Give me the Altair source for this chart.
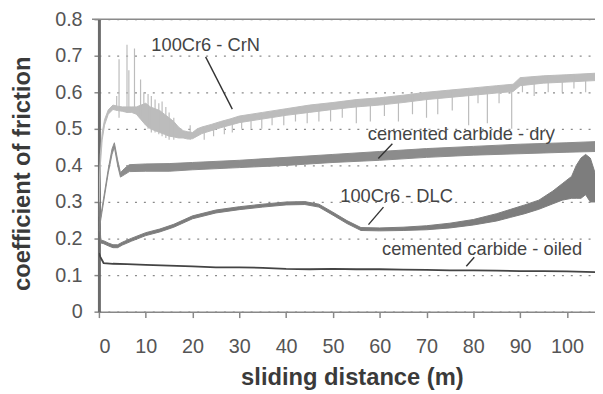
import altair as alt
import pandas as pd

FONT = "Liberation Sans"

# ---- 100Cr6 - CrN (light grey noisy band) ----
crn_d = [0, 0.3, 0.7, 1.2, 2, 3, 4, 5, 6, 7, 8, 9, 10, 11, 12, 13, 14, 15, 16, 17, 18, 19, 20,
         21, 22, 24, 26, 28, 30, 35, 40, 45, 50, 55, 60, 65, 70, 75, 80, 85, 88.5, 90, 95, 100, 106]
crn_lo = [0.26, 0.40, 0.47, 0.51, 0.54, 0.553, 0.55, 0.548, 0.545, 0.545, 0.54, 0.525, 0.51, 0.50,
          0.495, 0.49, 0.485, 0.48, 0.478, 0.475, 0.475, 0.472, 0.473, 0.48, 0.487, 0.495, 0.503,
          0.51, 0.517, 0.527, 0.537, 0.545, 0.553, 0.56, 0.565, 0.572, 0.58, 0.586, 0.592, 0.598,
          0.602, 0.618, 0.625, 0.628, 0.632]
crn_hi = [0.29, 0.43, 0.49, 0.525, 0.552, 0.565, 0.562, 0.56, 0.56, 0.56, 0.56, 0.565, 0.57, 0.56,
          0.555, 0.55, 0.54, 0.53, 0.52, 0.505, 0.495, 0.492, 0.49, 0.50, 0.505, 0.512, 0.52,
          0.527, 0.535, 0.545, 0.555, 0.565, 0.572, 0.58, 0.585, 0.592, 0.60, 0.606, 0.612, 0.618,
          0.622, 0.64, 0.645, 0.648, 0.652]
# CrN spikes (distance, from, to)
spk_d = [3.8, 4.3, 6.0, 6.4, 7.6, 8.9, 9.6, 10.5, 11.2, 12.0, 12.8, 13.5, 14.3, 15.0, 16.0, 19.5,
         22.5, 24.5, 26.8, 28.5, 30.5, 32.5, 34.8, 37.0, 39.5, 42.0, 44.5, 47.0, 49.5, 52.0, 55.0,
         58.0, 61.0, 64.0, 67.0, 70.0, 72.4, 75.5, 79.0, 81.0, 83.0, 85.5, 88.2, 90.5, 93.0, 96.0,
         99.0, 101.5, 104.0]
spk_a = [0.55, 0.53, 0.545, 0.55, 0.545, 0.535, 0.52, 0.50, 0.49, 0.49, 0.485, 0.48, 0.475, 0.47,
         0.47, 0.47, 0.50, 0.51, 0.52, 0.525, 0.53, 0.535, 0.54, 0.545, 0.55, 0.555, 0.56, 0.565,
         0.57, 0.575, 0.58, 0.58, 0.585, 0.59, 0.595, 0.60, 0.60, 0.605, 0.61, 0.612, 0.615, 0.618,
         0.62, 0.64, 0.64, 0.645, 0.645, 0.65, 0.65]
spk_b = [0.59, 0.69, 0.73, 0.66, 0.72, 0.635, 0.60, 0.595, 0.59, 0.58, 0.57, 0.575, 0.56, 0.545,
         0.53, 0.51, 0.47, 0.48, 0.485, 0.49, 0.50, 0.50, 0.50, 0.51, 0.51, 0.52, 0.515, 0.52,
         0.52, 0.53, 0.515, 0.52, 0.535, 0.52, 0.54, 0.53, 0.54, 0.55, 0.51, 0.57, 0.515, 0.57,
         0.50, 0.60, 0.59, 0.60, 0.60, 0.61, 0.60]

# ---- cemented carbide - dry (grey band) ----
dry_d = [0, 1, 2, 2.8, 3.3, 4, 4.6, 5.5, 6.5, 10, 15, 20, 30, 40, 50, 60, 70, 80, 90, 100, 106]
dry_lo = [0.22, 0.30, 0.38, 0.43, 0.45, 0.40, 0.368, 0.375, 0.383, 0.384, 0.384, 0.388, 0.394,
          0.400, 0.408, 0.414, 0.422, 0.428, 0.432, 0.436, 0.438]
dry_hi = [0.23, 0.31, 0.39, 0.445, 0.462, 0.415, 0.38, 0.392, 0.402, 0.404, 0.405, 0.408, 0.414,
          0.422, 0.43, 0.438, 0.446, 0.452, 0.458, 0.462, 0.465]

# ---- 100Cr6 - DLC ----
dlc_d = [0, 0.4, 1, 2, 3, 4, 5, 7, 10, 13, 16, 20, 25, 30, 35, 40, 44, 47, 50, 53, 56, 60, 65,
         70, 75, 80, 85, 88, 91, 94, 97, 99, 101, 102, 103, 104, 105, 106]
dlc_lo = [0.25, 0.188, 0.186, 0.180, 0.175, 0.175, 0.182, 0.193, 0.208, 0.218, 0.231, 0.254,
          0.270, 0.279, 0.286, 0.292, 0.293, 0.286, 0.264, 0.241, 0.222, 0.221, 0.222, 0.224,
          0.229, 0.237, 0.248, 0.258, 0.268, 0.280, 0.295, 0.305, 0.31, 0.31, 0.31, 0.32, 0.30, 0.30]
dlc_hi = [0.30, 0.196, 0.194, 0.188, 0.183, 0.183, 0.190, 0.201, 0.216, 0.226, 0.239, 0.262,
          0.278, 0.287, 0.294, 0.300, 0.301, 0.294, 0.272, 0.249, 0.230, 0.229, 0.231, 0.235,
          0.242, 0.252, 0.268, 0.280, 0.292, 0.305, 0.33, 0.35, 0.37, 0.40, 0.42, 0.43, 0.42, 0.38]

# ---- cemented carbide - oiled ----
oil_d = [0, 0.3, 1, 3, 6, 10, 15, 20, 25, 30, 35, 40, 45, 50, 55, 60, 65, 70, 75, 80, 85, 90,
         95, 100, 106]
oil_v = [0.16, 0.15, 0.133, 0.131, 0.13, 0.128, 0.126, 0.124, 0.121, 0.121, 0.12, 0.117, 0.116,
         0.117, 0.116, 0.116, 0.115, 0.114, 0.113, 0.113, 0.112, 0.111, 0.111, 0.11, 0.108]

# ---- annotations ----
lab_text = ["100Cr6 - CrN", "cemented carbide - dry", "100Cr6 - DLC", "cemented carbide - oiled"]
lab_d = [22.8, 77.4, 63.6, 60.5]
lab_v = [0.73, 0.486, 0.316, 0.17]
lab_align = ["center", "center", "center", "left"]
ld_d1 = [22.8, 62.7, 60.8, 80.2]
ld_v1 = [0.697, 0.459, 0.286, 0.149]
ld_d2 = [28.5, 59.7, 57.6, 78.5]
ld_v2 = [0.554, 0.419, 0.238, 0.124]

xticks = [0, 10, 20, 30, 40, 50, 60, 70, 80, 90, 100]
yticks = [0, 0.1, 0.2, 0.3, 0.4, 0.5, 0.6, 0.7, 0.8]

xs = alt.Scale(domain=[0, 106], nice=False, zero=False)
ys = alt.Scale(domain=[0, 0.8], nice=False)

xaxis = alt.Axis(values=xticks, title="sliding distance (m)", grid=False,
                 labelFontSize=20, labelColor="#555", labelFont=FONT, labelPadding=19,
                 tickSize=6, tickColor="#888", tickWidth=1.5,
                 domainColor="#888", domainWidth=1.5,
                 titleFont=FONT, titleFontSize=24, titleFontWeight="bold", titleColor="#3a3a3a",
                 titleX=256, titleY=74, titleAlign="center", titleBaseline="alphabetic")
yaxis = alt.Axis(values=yticks, title="coefficient of friction", grid=True,
                 gridDash=[2, 7], gridColor="#8a8a8a", gridWidth=1.3,
                 labelExpr="datum.value == 0 ? '0' : format(datum.value, '.1f')",
                 labelFontSize=20, labelColor="#555", labelFont=FONT, labelPadding=12,
                 tickSize=5, tickColor="#888", tickWidth=1.5,
                 domainColor="#6b6b6b", domainWidth=3,
                 titleFont=FONT, titleFontSize=24, titleFontWeight="bold", titleColor="#3a3a3a",
                 titleAngle=270, titleX=-77, titleY=156, titleAlign="center",
                 titleBaseline="middle")

X = lambda f: alt.X(f, scale=xs, axis=xaxis)
Y = lambda f: alt.Y(f, scale=ys, axis=yaxis)

crn_df = pd.DataFrame({"d": crn_d, "lo": crn_lo, "hi": crn_hi})
spk_df = pd.DataFrame({"d": spk_d, "a": spk_a, "b": spk_b})
dry_df = pd.DataFrame({"d": dry_d, "lo": dry_lo, "hi": dry_hi})
dlc_df = pd.DataFrame({"d": dlc_d, "lo": dlc_lo, "hi": dlc_hi})
oil_df = pd.DataFrame({"d": oil_d, "v": oil_v})
lab_df = pd.DataFrame({"t": lab_text, "d": lab_d, "v": lab_v, "al": lab_align})
ld_df = pd.DataFrame({"d1": ld_d1, "v1": ld_v1, "d2": ld_d2, "v2": ld_v2})

crn = alt.Chart(crn_df).mark_area(color="#bcbcbc", clip=True, stroke="#bcbcbc",
                                  strokeWidth=1).encode(x=X("d:Q"), y=Y("lo:Q"), y2="hi:Q")
spikes = alt.Chart(spk_df).mark_rule(color="#bcbcbc", strokeWidth=1.2, clip=True).encode(
    x=X("d:Q"), y=Y("a:Q"), y2="b:Q")
dry = alt.Chart(dry_df).mark_area(color="#8c8c8c", stroke="#8c8c8c", strokeWidth=1,
                                  clip=True).encode(x=X("d:Q"), y=Y("lo:Q"), y2="hi:Q")
dlc = alt.Chart(dlc_df).mark_area(color="#7d7d7d", stroke="#7d7d7d", strokeWidth=1,
                                  clip=True).encode(x=X("d:Q"), y=Y("lo:Q"), y2="hi:Q")
oil = alt.Chart(oil_df).mark_line(color="#444444", strokeWidth=1.8, clip=True).encode(
    x=X("d:Q"), y=Y("v:Q"))
top = alt.Chart(pd.DataFrame({"v": [0.8]})).mark_rule(color="#8a8a8a", strokeWidth=1.5).encode(
    y=Y("v:Q"), x=alt.value(-7), x2=alt.value(510))
leaders = alt.Chart(ld_df).mark_rule(color="#333333", strokeWidth=1.4).encode(
    x=X("d1:Q"), y=Y("v1:Q"), x2="d2:Q", y2="v2:Q")
labels_c = alt.Chart(lab_df[lab_df.al == "center"]).mark_text(
    font=FONT, fontSize=18.5, color="#444444", align="center", baseline="middle").encode(
    x=X("d:Q"), y=Y("v:Q"), text="t:N")
labels_l = alt.Chart(lab_df[lab_df.al == "left"]).mark_text(
    font=FONT, fontSize=18.5, color="#444444", align="left", baseline="middle").encode(
    x=X("d:Q"), y=Y("v:Q"), text="t:N")

chart = alt.layer(crn, spikes, dry, dlc, oil, top, leaders, labels_c, labels_l).properties(
    width=502, height=296,
    background="white",
    autosize=alt.AutoSizeParams(type="none"),
    padding={"left": 92, "top": 9, "right": 0, "bottom": 78},
).configure_view(stroke=None)

chart.save("out.html", embed_options={"renderer": "svg", "actions": False})
